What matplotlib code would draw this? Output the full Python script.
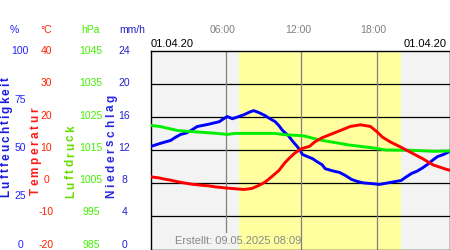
import matplotlib
matplotlib.use('Agg')
import matplotlib.pyplot as plt

plt.rcParams['font.family'] = ['Liberation Sans', 'DejaVu Sans']

# ---------------- data ----------------
temp_t = [0.0, 0.64, 1.12, 1.58, 2.05, 2.6, 3.25, 3.97, 4.6, 5.1, 5.85, 6.45, 7.4, 8.05, 8.6,
          9.1, 9.65, 10.2, 10.65, 11.05, 11.45, 12.0, 12.65, 13.05, 13.65, 14.45, 15.25, 15.9,
          16.7, 17.5, 18.05, 18.45, 19.1, 19.9, 20.7, 21.65, 22.5, 23.45, 23.9]
temp_v = [1.9, 1.6, 1.2, 0.9, 0.5, 0.1, -0.3, -0.6, -0.8, -1.1, -1.4, -1.6, -1.9, -1.6, -0.7,
          0.3, 2.0, 3.8, 6.0, 7.6, 9.0, 10.4, 11.1, 12.4, 13.7, 14.9, 16.1, 17.1,
          17.6, 17.1, 15.4, 13.9, 12.4, 10.9, 9.3, 7.4, 5.5, 4.3, 3.8]

hum_t = [0.0, 0.9, 1.58, 1.97, 2.37, 2.85, 3.33, 3.7, 4.5, 5.45, 5.8, 6.1, 6.5, 7.0, 7.45, 7.85,
         8.2, 8.65, 9.1, 9.5, 9.9, 10.2, 10.5, 10.95, 11.3, 11.7, 12.1, 12.9, 13.3, 13.65, 13.9,
         14.5, 15.05, 15.5, 16.0, 16.4, 16.9, 17.8, 18.2, 19.1, 19.95, 20.4, 20.8, 21.2, 21.65,
         22.1, 22.5, 22.85, 23.3, 23.7, 23.9]
hum_v = [51.8, 53.6, 54.8, 56.4, 57.8, 58.6, 60.3, 61.8, 62.8, 64.2, 65.7, 66.8, 65.7, 66.8, 67.8, 69.0,
         69.8, 68.7, 67.3, 65.7, 64.3, 62.3, 59.8, 57.3, 54.4, 51.5, 47.7, 45.6, 43.9, 42.6, 40.6,
         39.5, 38.7, 37.2, 35.2, 34.3, 33.5, 33.0, 32.7, 33.7, 34.7, 36.7, 38.3, 39.3, 41.0,
         43.0, 45.1, 46.7, 47.7, 48.9, 49.7]

pres_t = [0.0, 0.72, 1.17, 1.65, 2.1, 2.64, 3.44, 4.6, 5.58, 6.1, 6.7, 9.9, 10.7, 11.65, 12.25,
          13.25, 14.1, 14.9, 15.8, 16.7, 17.8, 18.7, 20.85, 22.6, 23.45, 23.9]
pres_v = [1022.4, 1022.1, 1021.7, 1021.3, 1020.9, 1020.7, 1020.5, 1020.2, 1019.9, 1019.7, 1020.0,
          1020.0, 1019.6, 1019.4, 1019.2, 1018.2, 1017.6, 1017.1, 1016.5, 1016.1, 1015.6, 1015.0,
          1014.9, 1014.6, 1014.7, 1014.7]

hum_ticks = [100, 75, 50, 25, 0]
temp_ticks = [40, 30, 20, 10, 0, -10, -20]
pres_ticks = [1045, 1035, 1025, 1015, 1005, 995, 985]
prec_ticks = [24, 20, 16, 12, 8, 4, 0]
units = ['%', '°C', 'hPa', 'mm/h']
titles = ['Luftfeuchtigkeit', 'Temperatur', 'Luftdruck', 'Niederschlag']
time_ticks = [6, 12, 18]
time_labels = ['06:00', '12:00', '18:00']
daylight = (7.05, 19.91)
date_label = '01.04.20'
created = 'Erstellt: 09.05.2025 08:09'

# ---------------- figure ----------------
W, H = 450, 250
fig = plt.figure(figsize=(W / 100, H / 100), dpi=100)
fig.patch.set_facecolor('white')


def fx(px):
    return px / W


def fy(py):
    return 1 - py / H


ax = fig.add_axes([fx(150.5), fy(249.5), 299 / W, 199 / H])
ax.set_xlim(-0.024, 23.80)
ax.set_ylim(-20, 40)
ax.set_facecolor('#f3f3f3')
ax.axvspan(daylight[0], daylight[1], color='#ffffa0', lw=0, zorder=0)
for v in temp_ticks[1:-1]:
    ax.axhline(v, color='black', lw=0.9, zorder=1)
for i, t in enumerate(time_ticks):
    ax.axvline(t, ymin=(0.089 if i == 0 else 0), color='#808080', lw=0.9, zorder=1)
ax.set_xticks([])
ax.set_yticks([])
for s in ax.spines.values():
    s.set_color('black')
    s.set_linewidth(1.0)

ax_h = ax.twinx()
ax_p = ax.twinx()
ax_t = ax.twinx()
for a, lim in ((ax_h, (0, 100)), (ax_p, (985, 1045)), (ax_t, (-20, 40))):
    a.set_ylim(*lim)
    a.set_xlim(ax.get_xlim())
    a.set_yticks([])
    a.set_xticks([])
    for s in a.spines.values():
        s.set_visible(False)

ax_h.plot(hum_t, hum_v, color='#0000ff', lw=2.1, solid_capstyle='butt', zorder=3)
ax_p.plot(pres_t, pres_v, color='#00ee00', lw=2.1, solid_capstyle='butt', zorder=3)
ax_t.plot(temp_t, temp_v, color='#ff0000', lw=2.1, solid_capstyle='butt', zorder=3)

# ---------------- labels ----------------
col_hum = '#2222ff'
col_temp = '#ff2200'
col_pres = '#44ee00'
col_prec = '#2222cc'
cols = [col_hum, col_temp, col_pres, col_prec]
col_x = [20, 46.5, 91, 124.5]
head_x = [14, 46, 90, 132.5]
fs = 7.5

for u, x, c in zip(units, head_x, cols):
    fig.text(fx(x), fy(33.3), u, color=c, fontsize=fs, ha='center', va='baseline')

for ticks, x, c in zip([hum_ticks, temp_ticks, pres_ticks, prec_ticks], col_x, cols):
    n = len(ticks)
    for i, v in enumerate(ticks):
        yc = 50.7 + i * (193.3 / (n - 1))
        fig.text(fx(x), fy(yc + 3.5), str(v), color=c, fontsize=fs, ha='center', va='baseline')

x0, pxh = 150.8, 12.55
for t, lab in zip(time_ticks, time_labels):
    fig.text(fx(x0 + pxh * t - 3.4), fy(33.3), lab, color='#808080', fontsize=fs,
             ha='center', va='baseline')

fig.text(fx(150.5), fy(46.7), date_label, color='black', fontsize=8, ha='left', va='baseline')
fig.text(fx(447), fy(46.7), date_label, color='black', fontsize=8, ha='right', va='baseline')
fig.text(fx(175), fy(244), created, color='#888888', fontsize=8, ha='left', va='baseline')

# vertical, letter-spaced titles
renderer = fig.canvas.get_renderer()


def spaced_vertical(s, x_base, y_start, length, color, size=8.5):
    props = dict(fontsize=size, fontweight='bold', color=color)

    def width(sub):
        if not sub:
            return 0.0
        t = fig.text(0, 0, sub, **props)
        w = t.get_window_extent(renderer).width
        t.remove()
        return w

    total = width(s)
    gap = (length - total) / (len(s) - 1)
    for i, ch in enumerate(s):
        off = width(s[:i]) + i * gap
        fig.text(fx(x_base), fy(y_start - off), ch, rotation=90, rotation_mode='anchor',
                 ha='left', va='baseline', **props)


title_base = [9.2, 38.6, 74.0, 114.0]
title_start = [196.7, 195, 198, 198]
title_len = [120, 87, 73, 103]
title_cols = ['#1a1ae0', '#ff1a1a', '#66dd00', '#2a2ae0']
for s, xb, ys, L, c in zip(titles, title_base, title_start, title_len, title_cols):
    spaced_vertical(s, xb, ys, L, c)

fig.savefig('out.png', dpi=100)
